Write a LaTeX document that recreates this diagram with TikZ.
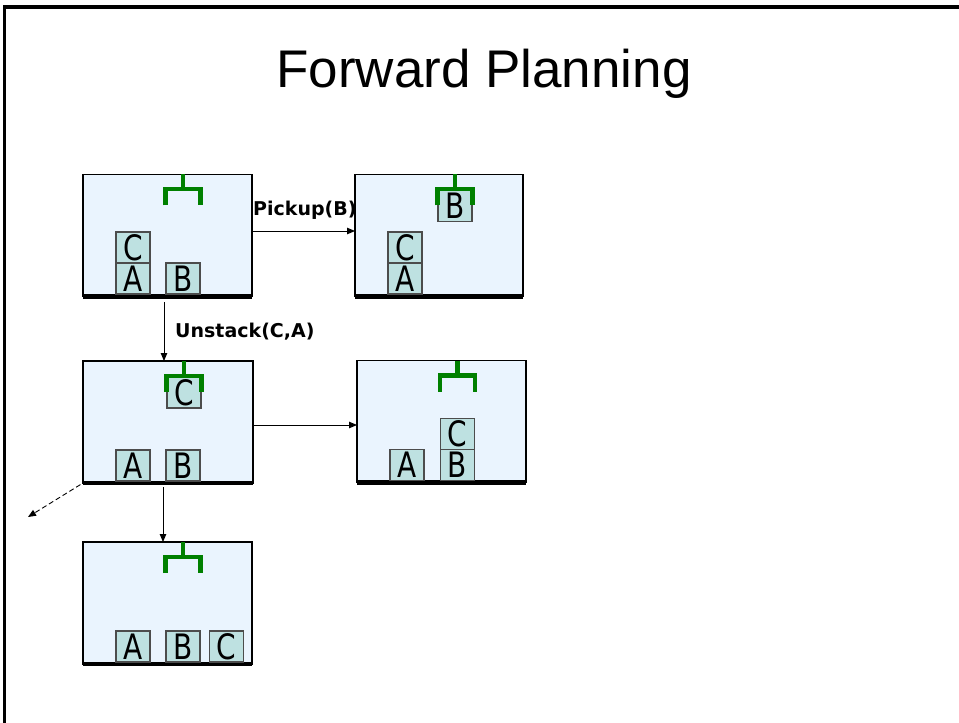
\documentclass[tikz,border=0pt]{standalone}
\usepackage{fontspec}
\setmainfont{DejaVu Sans}
\newfontfamily\titlefont{Liberation Sans}
\newfontfamily\blockfont[FakeStretch=0.8]{DejaVu Sans}
\usetikzlibrary{arrows.meta}

\definecolor{boxfill}{RGB}{234,244,254}
\definecolor{blockfill}{RGB}{190,225,225}
\definecolor{grip}{RGB}{0,128,0}

\tikzset{
  statebox/.style={draw=black, line width=1.2pt, fill=boxfill,
    minimum width=169, minimum height=122, inner sep=0pt, outer sep=0pt},
  floor/.style={line width=4.5pt},
  blockbox/.style={draw=black!70, line width=1.1pt, fill=blockfill,
    minimum width=34, minimum height=31, inner sep=0pt, outer sep=0pt,
    font=\blockfont\fontsize{35}{35}\selectfont},
  gripper/.style={draw=grip, line width=4.2pt},
  move/.style={-{Triangle[length=8pt,width=6.5pt]}, line width=0.9pt},
  act/.style={font=\fontsize{19}{19}\selectfont\bfseries, anchor=base west, inner sep=0pt},
  pics/claw/.style={code={
    \draw[gripper] (0,0) -- (0,15);
    \draw[gripper] (-17.5,31) -- (-17.5,15) -- (17.5,15) -- (17.5,31);
  }},
}

\begin{document}
\begin{tikzpicture}[x=1pt,y=-1pt]
\useasboundingbox (0,0) rectangle (959,723);

% slide frame (top and left edges)
\draw[line width=3.5pt] (4.5,723) -- (4.5,7) -- (959,7);

% title
\node[font=\titlefont\fontsize{53}{53}\selectfont, anchor=base, inner sep=0pt]
  (title) at (484,87) {Forward Planning};

% world states
\node[statebox] (b1) at (167.5,235.25) {};
\node[statebox, minimum width=168] (b2) at (439,235.25) {};
\node[statebox, minimum width=170] (b3) at (168,422) {};
\node[statebox] (b4) at (441.5,421.5) {};
\node[statebox] (b5) at (167.5,603) {};

\foreach \b in {b1,b2,b3,b4,b5}
  \draw[floor] (\b.south west) -- (\b.south east);

% state 1: C on A, B on table, hand empty
\node[blockbox] (s1A) at (133,278.5) {A};
\node[blockbox] (s1C) at (133,247.5) {C};
\node[blockbox] (s1B) at (183,278.5) {B};
\pic at (183,174.25) {claw};

% state 2: holding B
\node[blockbox] (s2A) at (405,278.5) {A};
\node[blockbox] (s2C) at (405,247.5) {C};
\node[blockbox] (s2B) at (455,206) {B};
\pic at (455,174.25) {claw};

% state 3: holding C
\node[blockbox] (s3A) at (133,465.5) {A};
\node[blockbox] (s3B) at (183,465.5) {B};
\node[blockbox] (s3C) at (184,392.5) {C};
\pic at (184,361) {claw};

% state 4: C on B
\node[blockbox] (s4A) at (407,465) {A};
\node[blockbox] (s4B) at (457.5,465) {B};
\node[blockbox] (s4C) at (457.5,434) {C};
\pic at (457.5,360.5) {claw};

% state 5: all on table
\node[blockbox] (s5A) at (133,646.5) {A};
\node[blockbox] (s5B) at (183,646.5) {B};
\node[blockbox] (s5C) at (226.5,646.5) {C};
\pic at (183,542) {claw};

% transitions
\draw[move] (b1.east |- 0,231) -- (b2.west |- 0,231);
\node[act] (lpick) at (253,215) {Pickup(B)};

\draw[move, shorten <=6pt] (b1.south -| 164,0) -- (b3.north -| 164,0);
\node[act] (lunstack) at (175,337) {Unstack(C,A)};

\draw[move] (b3.east |- 0,425) -- (b4.west |- 0,425);
\draw[move, shorten <=4pt] (b3.south -| 163,0) -- (b5.north -| 163,0);

\coordinate (more) at (28,517);
\draw[move, dash pattern=on 5pt off 3pt, shorten <=3pt] (b3.south west) -- (more);
\end{tikzpicture}
\end{document}
